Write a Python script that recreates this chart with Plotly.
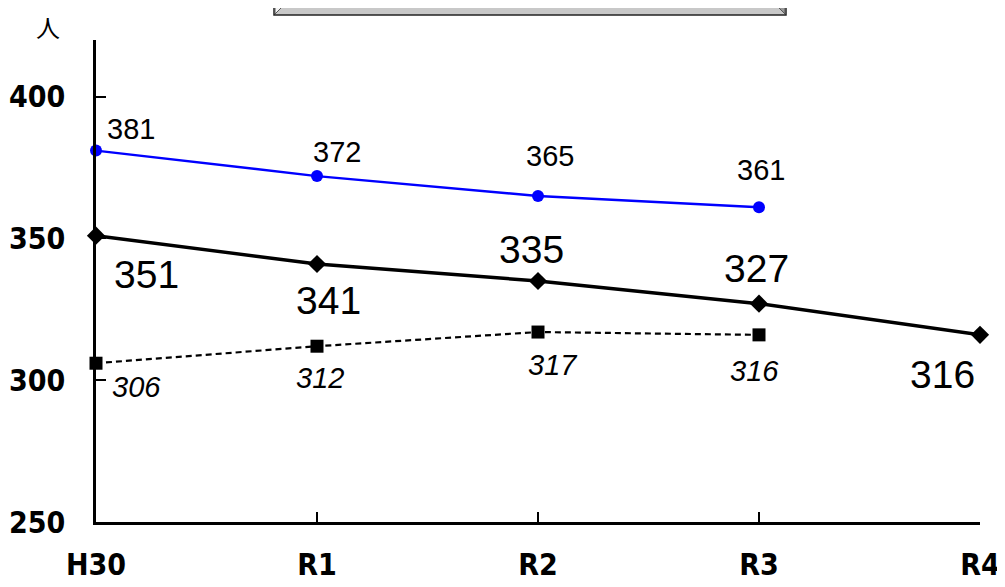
import plotly.graph_objects as go

categories = ["H30", "R1", "R2", "R3", "R4"]
blue_values = [381, 372, 365, 361]
black_values = [351, 341, 335, 327, 316]
dashed_values = [306, 312, 317, 316]
y_ticks = [250, 300, 350, 400]

OFF = 8  # page body margin
W, H = 1005 - OFF, 587 - OFF
L, R, T, B = 96 - OFF, 25, 40 - OFF, 65
PW, PH = W - L - R, H - T - B


def px(x):
    return (x - OFF - L) / PW


def py(y):
    return (H - B - (y - OFF)) / PH


fig = go.Figure()
fig.add_trace(go.Scatter(
    x=categories[:len(dashed_values)], y=dashed_values, mode="lines+markers",
    line=dict(color="black", width=2.2, dash="6px,4px"),
    marker=dict(symbol="square", size=13, color="black"), cliponaxis=False))
fig.add_trace(go.Scatter(
    x=categories, y=black_values, mode="lines+markers",
    line=dict(color="black", width=3.5),
    marker=dict(symbol="diamond", size=14, color="black"), cliponaxis=False))
fig.add_trace(go.Scatter(
    x=categories[:len(blue_values)], y=blue_values, mode="lines+markers",
    line=dict(color="#0000FF", width=2.4),
    marker=dict(symbol="circle", size=12, color="#0000FF"), cliponaxis=False))

ann = []
blue_off = [(35, 22), (20, 24), (12, 40), (2, 37)]
for c, v, (dx, dy) in zip(categories, blue_values, blue_off):
    ann.append(dict(x=c, y=v, text=str(v), showarrow=False, xshift=dx, yshift=dy,
                    font=dict(family="Liberation Sans, Arial", size=29, color="black")))
black_off = [(50, -39), (11, -37), (-7, 32), (-3, 35), (-38, -40)]
for c, v, (dx, dy) in zip(categories, black_values, black_off):
    ann.append(dict(x=c, y=v, text=str(v), showarrow=False, xshift=dx, yshift=dy,
                    font=dict(family="Liberation Sans, Arial", size=39, color="black")))
dash_off = [(40, -24), (3, -32), (15, -33), (-5, -36)]
for c, v, (dx, dy) in zip(categories, dashed_values, dash_off):
    ann.append(dict(x=c, y=v, text="<i>%d</i>" % v, showarrow=False, xshift=dx, yshift=dy,
                    font=dict(family="Liberation Sans, Arial", size=29, color="black")))
ann.append(dict(xref="paper", yref="paper", x=px(48), y=py(26), xanchor="center", yanchor="middle",
                text="人", showarrow=False, borderpad=0,
                font=dict(family="Noto Sans CJK JP", size=24, color="black")))

shapes = [
    dict(type="rect", xref="paper", yref="paper", x0=px(274), x1=px(786), y0=py(-10), y1=py(15),
         fillcolor="#c8c8c8", line=dict(color="#222", width=1.5)),
    dict(type="path", xref="paper", yref="paper",
         path="M %f %f L %f %f L %f %f L %f %f Z" % (px(275), py(-10), px(284), py(-10), px(284), py(5), px(275), py(14)),
         fillcolor="#f4f4f4", line=dict(color="#555", width=1)),
    dict(type="path", xref="paper", yref="paper",
         path="M %f %f L %f %f L %f %f L %f %f Z" % (px(776), py(-10), px(785), py(-10), px(785), py(14), px(776), py(5)),
         fillcolor="#999999", line=dict(color="#555", width=1)),
    dict(type="rect", xref="paper", yref="paper", x0=px(284), x1=px(776), y0=py(-10), y1=py(5),
         fillcolor="white", line=dict(color="#222", width=1.5)),
]

tickfont = dict(family="DejaVu Sans Condensed, Liberation Sans Narrow", size=30, color="black", weight="bold")

fig.update_layout(
    width=W, height=H, margin=dict(l=L, r=R, t=T, b=B, autoexpand=False),
    paper_bgcolor="white", plot_bgcolor="white", showlegend=False,
    annotations=ann, shapes=shapes,
    xaxis=dict(type="category", range=[0, 4], showgrid=False, zeroline=False, automargin=False,
               showline=True, linecolor="black", linewidth=2.5,
               ticks="inside", ticklen=10, tickwidth=2, tickcolor="black",
               ticklabelstandoff=14, tickfont=tickfont),
    yaxis=dict(range=[250, 420], tickvals=y_ticks, showgrid=False, zeroline=False, automargin=False,
               showline=True, linecolor="black", linewidth=2.5,
               ticks="inside", ticklen=10, tickwidth=2, tickcolor="black",
               ticklabelstandoff=22, tickfont=tickfont),
)

fig.write_html("out.html")
